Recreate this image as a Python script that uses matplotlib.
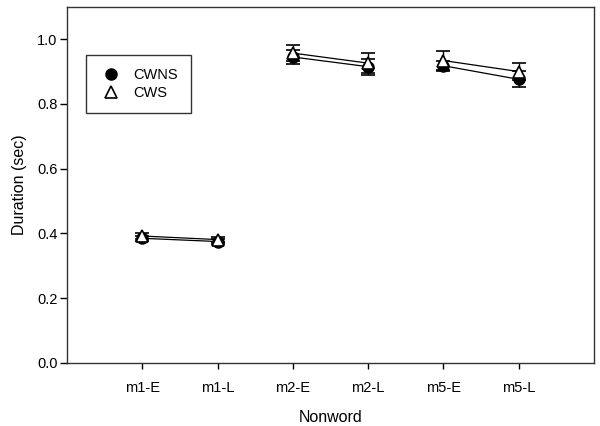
import matplotlib
matplotlib.use("Agg")
import matplotlib.pyplot as plt

plt.rcParams["font.family"] = ["Liberation Sans", "DejaVu Sans"]

nonwords = ["m1-E", "m1-L", "m2-E", "m2-L", "m5-E", "m5-L"]
cwns_mean = [0.385, 0.375, 0.945, 0.915, 0.918, 0.876]
cwns_err = [0.008, 0.008, 0.022, 0.025, 0.015, 0.025]
cws_mean = [0.392, 0.381, 0.957, 0.926, 0.934, 0.900]
cws_err = [0.008, 0.008, 0.025, 0.03, 0.028, 0.025]

fig = plt.figure(figsize=(6, 4.26), dpi=100)
ax = fig.add_axes([0.112, 0.148, 0.878, 0.836])

x = list(range(1, len(nonwords) + 1))

# lines join early/late within each nonword
for i in range(0, len(x), 2):
    ax.plot(x[i:i + 2], cwns_mean[i:i + 2], color="black", lw=0.9, zorder=2)
    ax.plot(x[i:i + 2], cws_mean[i:i + 2], color="black", lw=0.9, zorder=2)

ax.errorbar(x, cwns_mean, yerr=cwns_err, fmt="o", color="black", ms=8,
            capsize=5, elinewidth=1, capthick=1.2, zorder=3, label="CWNS")
ax.errorbar(x, cws_mean, yerr=cws_err, fmt="^", mfc="white", mec="black",
            ecolor="black", ms=9, mew=1.2, capsize=5, elinewidth=1,
            capthick=1.2, zorder=4, label="CWS")

ax.set_xlim(0, 7)
ax.set_ylim(0, 1.1)
ax.set_xticks(x)
ax.set_xticklabels(nonwords, fontsize=10.5)
ax.set_yticks([0.0, 0.2, 0.4, 0.6, 0.8, 1.0])
ax.set_yticklabels(["0.0", "0.2", "0.4", "0.6", "0.8", "1.0"], fontsize=10.5)
ax.tick_params(axis="x", direction="out", length=4, width=1, pad=9, top=False)
ax.tick_params(axis="y", direction="out", length=5, width=1, pad=2, right=False)
for s in ax.spines.values():
    s.set_linewidth(1)
    s.set_color("#333333")

ax.set_xlabel("Nonword", fontsize=11.5, labelpad=11)
ax.set_ylabel("Duration (sec)", fontsize=11.5, labelpad=7)

handles, labels = ax.get_legend_handles_labels()
handles = [h[0] for h in handles]
leg = ax.legend(handles, labels, loc="upper left", bbox_to_anchor=(0.036, 0.865),
                fontsize=10.5, frameon=True, fancybox=False, borderpad=0.9,
                handlelength=1.6, handletextpad=0.7, labelspacing=0.25,
                borderaxespad=0)
leg.get_frame().set_edgecolor("black")
leg.get_frame().set_linewidth(1)

fig.savefig("out.png", dpi=100)
